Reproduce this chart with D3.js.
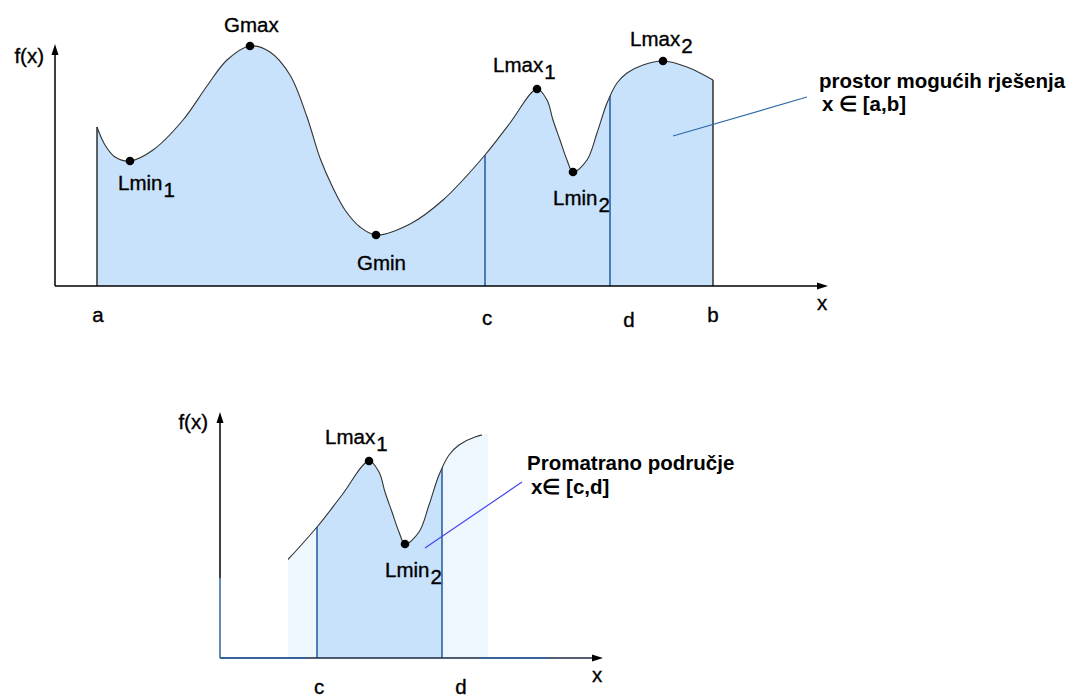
<!DOCTYPE html>
<html>
<head>
<meta charset="utf-8">
<script src="https://cdn.jsdelivr.net/npm/d3@7"></script>
<style>
  body { margin: 0; background: #fff; }
  svg { display: block; }
  text { font-family: "Liberation Sans", Arial, sans-serif; fill: #000; }
  .lbl { font-size: 20.5px; stroke: #000; stroke-width: 0.35px; }
  .note { font-size: 20.5px; font-weight: bold; }
</style>
</head>
<body>
<svg id="chart" width="1073" height="698"></svg>
<script>
// f(x) curve (x, f(x) in plot units)
const curveX = [4.2, 5.0, 6.0, 7.5, 9.8, 12.8, 15.2, 17.2, 19.5, 21.5, 23.5, 25.2, 26.5, 27.8, 29.0, 30.5, 32.1,
                35.5, 38.8, 43.0, 45.5, 48.2, 49.2, 49.8, 50.5, 51.2, 51.8, 53.2, 54.2, 55.2, 56.2, 57.2, 58.8,
                60.8, 63.2, 65.8];
const curveY = [15.9, 14.1, 12.9, 12.5, 13.6, 16.6, 20.0, 22.6, 24.0, 23.4, 21.1, 16.9, 12.8, 9.8, 7.6, 5.9, 5.1,
                6.2, 8.6, 13.1, 16.3, 19.7, 18.6, 16.6, 14.6, 12.6, 11.4, 12.6, 15.3, 18.3, 20.3, 21.3, 22.1,
                22.5, 21.9, 20.6];

// extrema
const markerNames = ['Lmin', 'Gmax', 'Gmin', 'Lmax', 'Lmin', 'Lmax'];
const markerSubs  = ['1', '', '', '1', '2', '2'];
const markerX = [7.5, 19.5, 32.1, 48.2, 51.8, 60.8];
const markerY = [12.5, 24.0, 5.1, 19.7, 11.4, 22.5];

// interval bounds on the x axis
const boundNames = ['a', 'c', 'd', 'b'];
const boundX = [4.2, 43.0, 55.5, 65.8];

// window shown in the lower chart
const windowFrom = 40.1;
const windowTo = 59.5;
const windowShadeTo = 60.1;

const svg = d3.select('#chart');
const defs = svg.append('defs');

// label offsets from the dot (layout)
const labelOffset = {
  'Lmin1': [-12, 29], 'Gmax': [-26, -14], 'Gmin': [-19, 35],
  'Lmax1': [-44, -17], 'Lmin2': [-20, 33], 'Lmax2': [-33, -15]
};
// bound label nudges (layout)
const boundOffset = { a: [1, 36], c: [2, 39], d: [19, 41], b: [0, 36] };

const pts = curveX.map((x, i) => ({x: x, y: curveY[i]}));
const marks = markerX.map((x, i) => ({x: x, y: markerY[i], name: markerNames[i], sub: markerSubs[i]}));
const curve = d3.curveCatmullRom.alpha(0.5);

function arrowHead(g, x, y, dir) {
  // small filled arrow head, dir: 'up' or 'right'
  const p = dir === 'up'
    ? [[x, y], [x - 3.5, y + 11], [x + 3.5, y + 11]]
    : [[x, y], [x - 11, y - 3.5], [x - 11, y + 3.5]];
  g.append('path').attr('d', 'M' + p.join('L') + 'Z').attr('fill', '#000');
}

function drawMarks(g, xs, ys, list) {
  list.forEach(m => {
    const cx = xs(m.x), cy = ys(m.y);
    g.append('circle').attr('cx', cx).attr('cy', cy).attr('r', 4.3).attr('fill', '#000');
    const off = labelOffset[m.name + m.sub];
    const t = g.append('text').attr('class', 'lbl')
      .attr('x', cx + off[0]).attr('y', cy + off[1]).text(m.name);
    if (m.sub) t.append('tspan').attr('dx', 1).attr('dy', 7).text(m.sub);
  });
}

// ---------- upper chart: whole space a..b ----------
const x1 = d3.scaleLinear().domain([0, 77.2]).range([55, 827]);
const y1 = d3.scaleLinear().domain([0, 24]).range([286, 46]);

const area1 = d3.area().x(d => x1(d.x)).y0(y1(0)).y1(d => y1(d.y)).curve(curve);
const line1 = d3.line().x(d => x1(d.x)).y(d => y1(d.y)).curve(curve);

const upper = svg.append('g');
defs.append('clipPath').attr('id', 'clipTop').append('path').attr('d', area1(pts));

upper.append('path').attr('d', area1(pts)).attr('fill', '#c7e2fa');

// inner bounds c, d cut by the area
upper.append('g').attr('clip-path', 'url(#clipTop)')
  .selectAll('line').data(boundX.slice(1, 3)).join('line')
  .attr('x1', d => x1(d)).attr('x2', d => x1(d))
  .attr('y1', y1(0)).attr('y2', 0)
  .attr('stroke', '#2d63a3').attr('stroke-width', 1.6);

// outer bounds a, b
[0, pts.length - 1].forEach(i => {
  upper.append('line')
    .attr('x1', x1(pts[i].x)).attr('x2', x1(pts[i].x))
    .attr('y1', y1(0)).attr('y2', y1(pts[i].y))
    .attr('stroke', '#222').attr('stroke-width', 1.4);
});

upper.append('path').attr('d', line1(pts)).attr('fill', 'none')
  .attr('stroke', '#333').attr('stroke-width', 1.1);

// axes
upper.append('line').attr('x1', 55).attr('x2', 55).attr('y1', y1(0)).attr('y2', 50)
  .attr('stroke', '#000').attr('stroke-width', 1.5);
upper.append('line').attr('x1', 55).attr('x2', 822).attr('y1', y1(0)).attr('y2', y1(0))
  .attr('stroke', '#000').attr('stroke-width', 1.5);
arrowHead(upper, 55, 44, 'up');
arrowHead(upper, 828, y1(0), 'right');
upper.append('text').attr('class', 'lbl').attr('x', 44).attr('y', 63).attr('text-anchor', 'end').text('f(x)');
upper.append('text').attr('class', 'lbl').attr('x', 822).attr('y', 310).attr('text-anchor', 'middle').text('x');

boundNames.forEach((n, i) => {
  upper.append('text').attr('class', 'lbl').attr('text-anchor', 'middle')
    .attr('x', x1(boundX[i]) + boundOffset[n][0]).attr('y', y1(0) + boundOffset[n][1])
    .text(n);
});

drawMarks(upper, x1, y1, marks);

// annotation
upper.append('line').attr('x1', 673).attr('y1', 136).attr('x2', 807).attr('y2', 97)
  .attr('stroke', '#2f6aa8').attr('stroke-width', 1.2);
upper.append('text').attr('class', 'note').attr('x', 819).attr('y', 88).text('prostor mogućih rješenja');
upper.append('text').attr('class', 'note').attr('x', 822).attr('y', 111).text('x ∈ [a,b]');

// ---------- lower chart: window c..d ----------
const x2 = d3.scaleLinear().domain([0, 77.2]).range([55 - 168, 827 - 168]);
const y2 = d3.scaleLinear().domain([0, 24]).range([658, 418]);

const area2 = d3.area().x(d => x2(d.x)).y0(y2(0)).y1(d => y2(d.y)).curve(curve);
const line2 = d3.line().x(d => x2(d.x)).y(d => y2(d.y)).curve(curve);

const lower = svg.append('g');
function clipRect(id, from, to) {
  defs.append('clipPath').attr('id', id).append('rect')
    .attr('x', x2(from)).attr('width', x2(to) - x2(from))
    .attr('y', 0).attr('height', 698);
}
clipRect('clipShade', windowFrom, windowShadeTo);
clipRect('clipLine', windowFrom, windowTo);
clipRect('clipCD', boundX[1], boundX[2]);
defs.append('clipPath').attr('id', 'clipBot').append('path').attr('d', area2(pts));

lower.append('path').attr('d', area2(pts)).attr('fill', '#eef6fe').attr('clip-path', 'url(#clipShade)');
lower.append('path').attr('d', area2(pts)).attr('fill', '#c7e2fa').attr('clip-path', 'url(#clipCD)');

lower.append('g').attr('clip-path', 'url(#clipBot)')
  .selectAll('line').data(boundX.slice(1, 3)).join('line')
  .attr('x1', d => x2(d)).attr('x2', d => x2(d))
  .attr('y1', y2(0)).attr('y2', 0)
  .attr('stroke', '#2d63a3').attr('stroke-width', 1.6);

lower.append('path').attr('d', line2(pts)).attr('fill', 'none')
  .attr('stroke', '#333').attr('stroke-width', 1.1).attr('clip-path', 'url(#clipLine)');

// axes (partly blue like the source)
lower.append('line').attr('x1', 220).attr('x2', 220).attr('y1', 578).attr('y2', 418)
  .attr('stroke', '#000').attr('stroke-width', 1.5);
lower.append('line').attr('x1', 220).attr('x2', 220).attr('y1', y2(0)).attr('y2', 578)
  .attr('stroke', '#2d63a3').attr('stroke-width', 1.5);
lower.append('line').attr('x1', 220).attr('x2', 598).attr('y1', y2(0)).attr('y2', y2(0))
  .attr('stroke', '#1a2a44').attr('stroke-width', 1.5);
[[220, 308], [482, 547]].forEach(s => {
  lower.append('line').attr('x1', s[0]).attr('x2', s[1]).attr('y1', y2(0)).attr('y2', y2(0))
    .attr('stroke', '#2d63a3').attr('stroke-width', 1.5);
});
arrowHead(lower, 220, 412, 'up');
arrowHead(lower, 603, y2(0), 'right');
lower.append('text').attr('class', 'lbl').attr('x', 208).attr('y', 429).attr('text-anchor', 'end').text('f(x)');
lower.append('text').attr('class', 'lbl').attr('x', 597).attr('y', 682).attr('text-anchor', 'middle').text('x');

[1, 2].forEach(i => {
  const n = boundNames[i];
  lower.append('text').attr('class', 'lbl').attr('text-anchor', 'middle')
    .attr('x', x2(boundX[i]) + boundOffset[n][0]).attr('y', 694)
    .text(n);
});

drawMarks(lower, x2, y2, marks.filter(m => m.x >= windowFrom && m.x <= windowTo));

lower.append('line').attr('x1', 425).attr('y1', 548).attr('x2', 522).attr('y2', 482)
  .attr('stroke', '#4646f2').attr('stroke-width', 1.2);
lower.append('text').attr('class', 'note').attr('x', 527).attr('y', 470).text('Promatrano područje');
lower.append('text').attr('class', 'note').attr('x', 531).attr('y', 494).text('x∈ [c,d]');
</script>
</body>
</html>
